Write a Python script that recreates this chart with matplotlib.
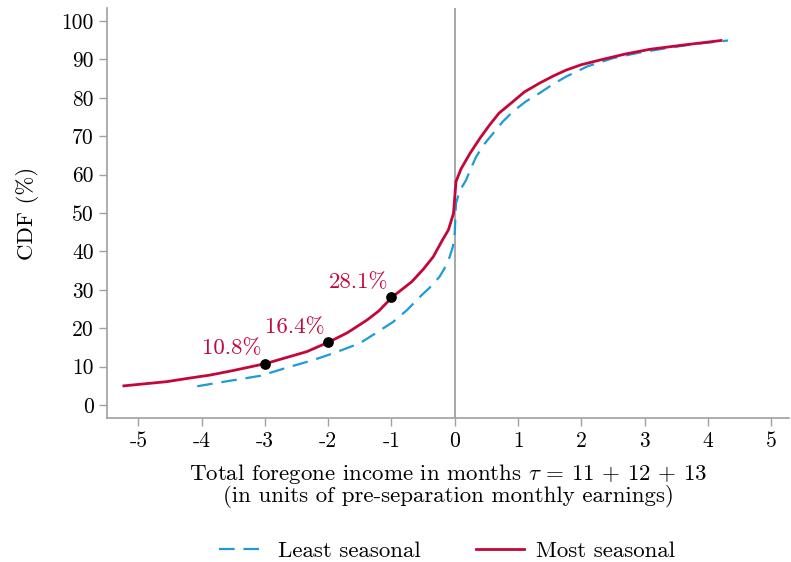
import numpy as np
import matplotlib.pyplot as plt

plt.rcParams['font.family'] = ['cmr10', 'DejaVu Serif']
plt.rcParams['mathtext.fontset'] = 'cm'
plt.rcParams['axes.unicode_minus'] = False

# Least seasonal (dashed blue)
least_x = [-4.07, -3.6, -3.08, -2.6, -2.24, -1.9, -1.5, -1.25, -0.97, -0.75, -0.55,
           -0.4, -0.24, -0.13, -0.08, -0.03, 0.0, 0.02, 0.08, 0.18, 0.26, 0.34, 0.46,
           0.61, 0.76, 0.92, 1.12, 1.34, 1.55, 1.76, 2.1, 2.5, 2.9, 3.34, 3.8, 4.32]
least_y = [4.9, 6.2, 7.6, 10.0, 11.7, 13.6, 16.1, 18.7, 21.7, 24.8, 28.2,
           30.5, 33.4, 36.5, 38.6, 41.2, 44.8, 52.6, 55.8, 58.6, 61.8, 64.7, 67.8,
           70.8, 73.8, 76.4, 79.0, 81.2, 83.5, 85.5, 88.2, 90.3, 91.7, 92.9, 94.0, 94.9]

# Most seasonal (solid red)
most_x = [-5.23, -4.55, -4.2, -3.87, -3.5, -2.99, -2.34, -1.99, -1.7, -1.39, -1.2,
          -0.99, -0.68, -0.5, -0.34, -0.2, -0.1, -0.02, 0.02, 0.1, 0.24, 0.4, 0.55,
          0.7, 0.92, 1.1, 1.34, 1.55, 1.76, 2.0, 2.29, 2.7, 3.08, 3.6, 4.21]
most_y = [5.0, 6.1, 7.0, 7.8, 9.0, 10.8, 13.9, 16.4, 18.8, 22.1, 24.5,
          28.1, 32.1, 35.3, 38.6, 42.8, 45.6, 49.9, 58.2, 61.5, 65.5, 69.5, 72.9,
          76.0, 79.0, 81.5, 83.8, 85.6, 87.2, 88.6, 89.8, 91.4, 92.6, 93.7, 94.9]

# highlighted points
pt_x = [-3, -2, -1]
pt_y = [10.8, 16.4, 28.1]
pt_lab = ['10.8%', '16.4%', '28.1%']

xticks = [-5, -4, -3, -2, -1, 0, 1, 2, 3, 4, 5]
yticks = list(range(0, 101, 10))

red = '#c4063a'
blue = '#1b9bd8'
gray = '#a0a0a0'

fig = plt.figure(figsize=(7.91, 5.62), dpi=100)
ax = fig.add_axes([0.135, 0.256, 0.863, 0.73])

ax.axvline(0, color=gray, lw=1.3, zorder=1)
ax.plot(least_x, least_y, color=blue, lw=1.6, dashes=(7, 4), label='Least seasonal', zorder=2)
ax.plot(most_x, most_y, color=red, lw=2.0, label='Most seasonal', zorder=3)
ax.scatter(pt_x, pt_y, s=45, color='black', zorder=4)
for x, y, t in zip(pt_x, pt_y, pt_lab):
    ax.text(x - 0.05, y + 1.3, t, color=red, fontsize=16.5, ha='right', va='bottom')

ax.set_xlim(-5.5, 5.29)
ax.set_ylim(-3.4, 103.4)
ax.set_xticks(xticks)
ax.set_xticklabels([str(v) for v in xticks])
ax.set_yticks(yticks)
ax.set_yticklabels([str(v) for v in yticks])
ax.tick_params(colors=gray, labelcolor='black', labelsize=15.5, length=6, width=1)

for s in ['top', 'right']:
    ax.spines[s].set_visible(False)
for s in ['left', 'bottom']:
    ax.spines[s].set_color(gray)
    ax.spines[s].set_linewidth(1.2)

ax.set_ylabel('CDF (%)', fontsize=16.5, labelpad=16)
ax.set_xlabel('Total foregone income in months $\\mathbf{\\tau}$ = 11 + 12 + 13\n'
              '(in units of pre-separation monthly earnings)',
              fontsize=16.5, linespacing=0.95, labelpad=8)

fig.legend(handles=ax.get_lines()[1:], loc='lower center', ncol=2, frameon=False,
           fontsize=16.5, bbox_to_anchor=(0.565, -0.035), handlelength=2.1,
           handletextpad=0.5, columnspacing=2.4)

fig.savefig('out.png', dpi=100)
